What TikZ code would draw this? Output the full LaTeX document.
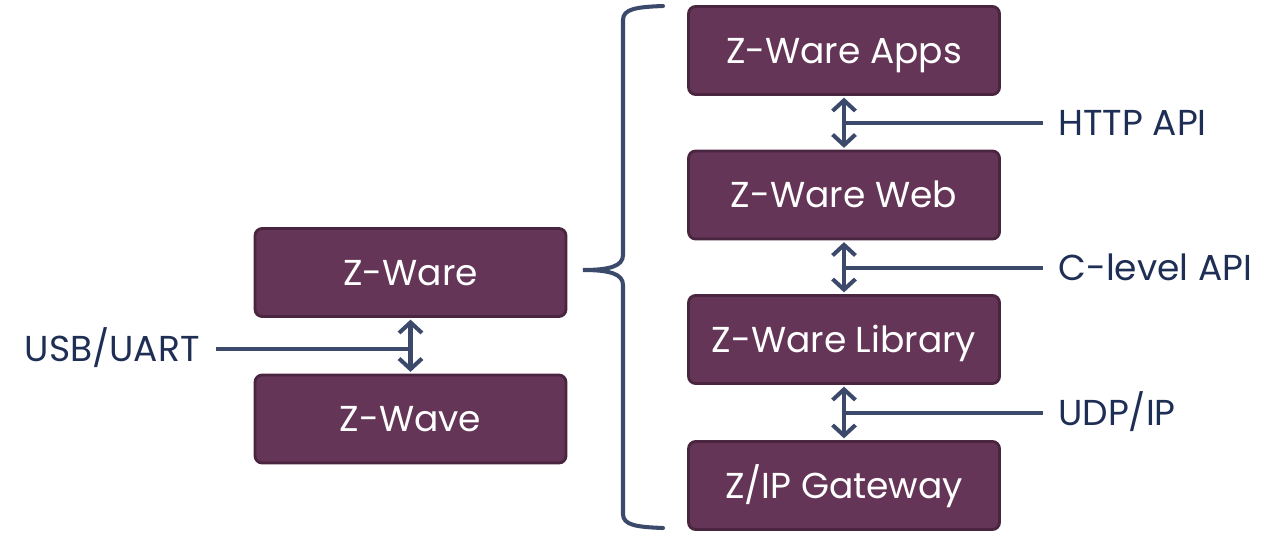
\documentclass[tikz,border=0pt]{standalone}
\usepackage{fontspec}
\setmainfont{Poppins}
\usepackage{tikz}
\usetikzlibrary{arrows.meta,positioning}

\definecolor{boxfill}{HTML}{643556}
\definecolor{boxline}{HTML}{4A2540}
\definecolor{linkcol}{HTML}{3B4A6B}
\definecolor{labcol}{HTML}{1F2E55}

\begin{document}
\begin{tikzpicture}[x=0.02cm, y=-0.02cm]
			\tikzstyle{Block}	= [rectangle, rounded corners=4pt, draw=boxline, line width=1.6pt, fill=boxfill, text=white, minimum width=6.22cm, minimum height=1.76cm, inner sep=0pt, text height=14.5pt, text depth=0pt, font=\fontsize{20.5}{24}\selectfont]
			\tikzstyle{Link}	= [linkcol, line width=2.3pt]
			\tikzstyle{Both}	= [Link, {Straight Barb[length=6pt,width=13pt,line width=2.3pt]}-{Straight Barb[length=6pt,width=13pt,line width=2.3pt]}, shorten <=1pt, shorten >=1pt]
			\tikzstyle{Api}		= [text=labcol, font=\fontsize{20.5}{24}\selectfont, inner sep=0pt, text height=14.5pt, text depth=0pt, anchor=west]

			\useasboundingbox (0,0) rectangle (1275,541);

			\node (apps) at (844,50.5) [Block] {Z-Ware Apps};
			\node (web) at (844,195) [Block] {Z-Ware Web};
			\node (lib) at (844,339.5) [Block] {Z-Ware Library};
			\node (gw) at (844,485.5) [Block] {Z/IP Gateway};
			\node (zware) at (410.5,272.5) [Block] {Z-Ware};
			\node (zwave) at (410.5,419) [Block] {Z-Wave};

			\foreach \a/\b in {apps/web, web/lib, lib/gw, zware/zwave}
				\draw [Both] (\a.south) to (\b.north);

			\foreach \n/\y/\t/\l in {h/123/{HTTP API}/apps, c/268/{C-level API}/web, u/413/{UDP/IP}/lib}
			{
				\coordinate (\n a) at (\l.south |- 0,\y);
				\coordinate (\n b) at (1043,\y);
				\draw [Link] (\n a) to (\n b);
				\node (\n t) at (1058,\y) [Api] {\t};
			}

			\coordinate (ua) at (zware.south |- 0,349);
			\coordinate (ub) at (216,349);
			\draw [Link] (ua) to (ub);
			\node (ut) at (200,349) [Api, anchor=east] {USB/UART};

			% brace round the right stack
			\draw [Link, line cap=round] (663,6) .. controls (636,7) and (623,9) .. (623,20)
				-- (623,255) .. controls (623,266) and (610,270) .. (583,270)
				.. controls (610,270) and (623,274) .. (623,285)
				-- (623,514) .. controls (623,525) and (636,527) .. (663,528);
\end{tikzpicture}
\end{document}
